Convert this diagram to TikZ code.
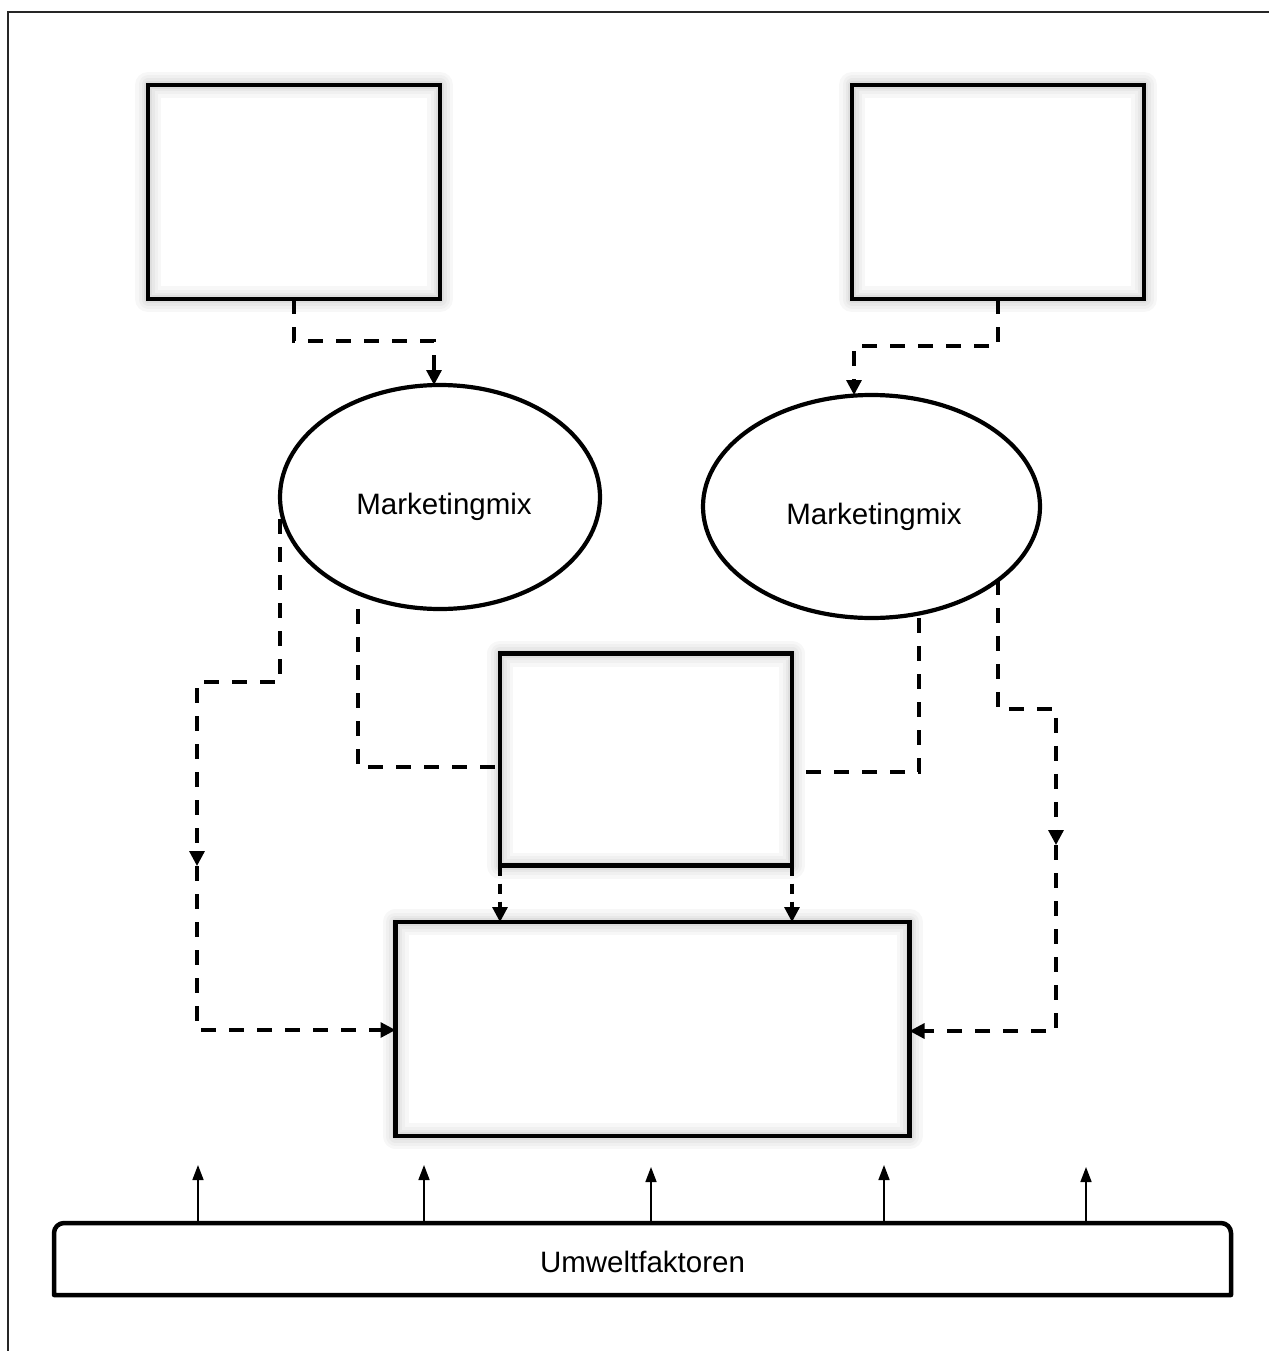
\documentclass[tikz,border=0pt]{standalone}
\usepackage{fontspec}
\setmainfont{Liberation Sans}
\usetikzlibrary{arrows.meta,shapes.geometric}
\begin{document}
\begin{tikzpicture}[x=1pt,y=-1pt,
  glowbox/.style={rectangle, draw=black, line width=4.5pt, inner sep=0pt, outer sep=0pt,
    preaction={draw=black!3, line width=26pt, line join=round},
    preaction={draw=black!6, line width=19pt, line join=round},
    preaction={draw=black!9, line width=13pt, line join=round},
    preaction={draw=black!13, line width=8pt, line join=round}},
  mixell/.style={ellipse, draw=black, line width=4.2pt, inner sep=0pt, outer sep=0pt,
    font=\fontsize{29.5}{34}\selectfont, text height=35pt, text depth=0pt},
  dl/.style={line width=3.2pt, dash pattern=on 15pt off 13pt},
  arr/.style={-{Triangle[length=15pt,width=15pt]}},
  thinarr/.style={line width=1.6pt, -{Triangle[length=15pt,width=11pt]}}
]
\useasboundingbox (0,0) rectangle (1269,1351);
% outer frame
\draw[line width=1.6pt, black!85] (8,1351) -- (8,12) -- (1269,12);

% nodes
\node[glowbox, minimum width=292pt, minimum height=214pt] (boxTL) at (294,192) {};
\node[glowbox, minimum width=292pt, minimum height=214pt] (boxTR) at (998,192) {};
\node[mixell, minimum width=320pt, minimum height=224pt] (ellL) at (440,497) {\hspace*{8pt}Marketingmix};
\node[mixell, minimum width=337pt, minimum height=223pt] (ellR) at (871.5,506.5) {\hspace*{5pt}Marketingmix};
\node[glowbox, minimum width=292pt, minimum height=212pt] (boxM) at (646,759.5) {};
\node[glowbox, minimum width=514pt, minimum height=214pt] (boxB) at (652.5,1029) {};
\node[rectangle, inner sep=0pt, outer sep=0pt, minimum width=1177pt, minimum height=72pt,
      text height=26pt, text depth=0pt,
      font=\fontsize{29.5}{34}\selectfont] (bar) at (642.5,1259) {Umweltfaktoren};
\draw[line width=4.5pt, line join=round]
  (bar.south west) -- ([yshift=-10pt]bar.north west)
  arc[start angle=180, end angle=90, radius=10pt]
  -- ([xshift=-10pt]bar.north east)
  arc[start angle=90, end angle=0, radius=10pt]
  -- (bar.south east) -- cycle;

% coordinates for bends
\coordinate (c1) at (434,341);
\coordinate (c2) at (854,346);
\coordinate (c3a) at (280,682);
\coordinate (c3b) at (197,682);
\coordinate (c3c) at (197,866);
\coordinate (c3d) at (197,1030);
\coordinate (c4) at (358,767);
\coordinate (c5) at (919,772);
\coordinate (c6a) at (998,709);
\coordinate (c6b) at (1056,709);
\coordinate (c6c) at (1056,845);
\coordinate (c6d) at (1056,1031);

% dashed connectors
\draw[dl, arr] (boxTL.south) |- (c1) -- (c1 |- ellL.north);
\draw[dl, arr] (boxTR.south) |- (c2) -- (c2 |- ellR.north);
\draw[dl, arr] (c3a |- ellL.188) -- (c3a) -- (c3b) -- (c3c);
\draw[dl, arr] (c3c) -- (c3d) -- (c3d -| boxB.west);
\draw[dl] (c4 |- ellL.south) -- (c4) -- (c4 -| boxM.west);
\draw[dl, shorten >=12pt] (c5 |- ellR.south) -- (c5) -- (c5 -| boxM.east);
\draw[dl, arr] (c6a |- ellR.330) -- (c6a) -- (c6b) -- (c6c);
\draw[dl, arr] (c6c) -- (c6d) -- (c6d -| boxB.east);
\draw[dl, arr, dash pattern=on 10pt off 8pt] (boxM.south west) -- (boxM.south west |- boxB.north);
\draw[dl, arr, dash pattern=on 10pt off 8pt] (boxM.south east) -- (boxM.south east |- boxB.north);

% environment arrows
\coordinate (u1) at (198,1165);
\coordinate (u2) at (424,1165);
\coordinate (u3) at (651,1167);
\coordinate (u4) at (884,1165);
\coordinate (u5) at (1086,1167);
\foreach \u in {u1,u2,u3,u4,u5}
  \draw[thinarr] (\u |- bar.north) -- (\u);
\end{tikzpicture}
\end{document}
